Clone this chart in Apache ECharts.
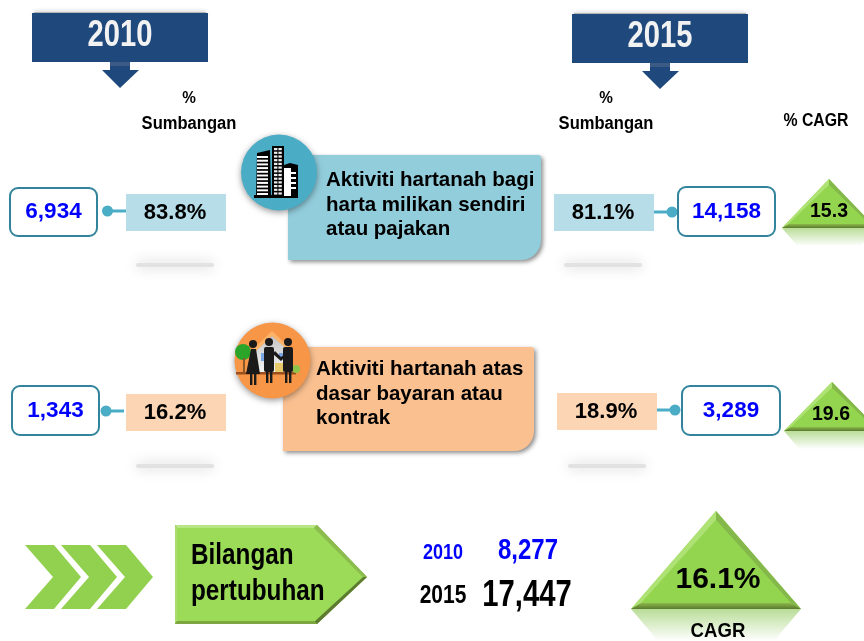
<!DOCTYPE html>
<html>
<head>
<meta charset="utf-8">
<title>Aktiviti hartanah</title>
<style>
    html, body { margin: 0; padding: 0; background: #fff; }
    #chart { width: 864px; height: 641px; }
</style>
<script src="https://cdn.jsdelivr.net/npm/echarts@6/dist/echarts.min.js"></script>
</head>
<body>
<div id="chart"></div>
<script>
/*---------------------------------------- data ---------------------------------------------*/
var years = [2010, 2015];
var rowTitles = [
    ['Aktiviti hartanah bagi', 'harta milikan sendiri', 'atau pajakan'],
    ['Aktiviti hartanah atas', 'dasar bayaran atau', 'kontrak']
];
var values2010 = [6934, 1343];
var values2015 = [14158, 3289];
var shares2010 = [83.8, 16.2];
var shares2015 = [81.1, 18.9];
var cagrValues = [15.3, 19.6];
var totals = [8277, 17447];
var totalCagr = 16.1;
var growthTitle = ['Bilangan', 'pertubuhan'];
var shareTitle = ['%', 'Sumbangan'];
var cagrTitle = '% CAGR';
var cagrLabel = 'CAGR';

/*---------------------------------------- helpers ---------------------------------------------*/
var SANS = '"Liberation Sans", Arial, sans-serif';
var items = [];
var fmt = echarts.format.addCommas;

// sx squeezes the text sideways, the reference uses a condensed face
function label(text, x, y, size, color, sx, align) {
    items.push({
        type: 'text', z: 20,
        x: x, y: y,
        scaleX: sx || 1,
        style: {
            text: text, fill: color || '#000',
            font: 'bold ' + size + 'px ' + SANS,
            align: align || 'center', verticalAlign: 'middle'
        }
    });
}

function poly(points, fill, z, extra) {
    var style = {fill: fill};
    for (var k in extra) {
        style[k] = extra[k];
    }
    items.push({type: 'polygon', z: z || 5, shape: {points: points}, style: style});
}

function rect(x, y, w, h, fill, r, z, extra) {
    var style = {fill: fill};
    for (var k in extra) {
        style[k] = extra[k];
    }
    items.push({type: 'rect', z: z || 5, shape: {x: x, y: y, width: w, height: h, r: r || 0}, style: style});
}

function circle(cx, cy, r, fill, z, extra) {
    var style = {fill: fill};
    for (var k in extra) {
        style[k] = extra[k];
    }
    items.push({type: 'circle', z: z || 5, shape: {cx: cx, cy: cy, r: r}, style: style});
}

function vGrad(c1, c2) {
    return new echarts.graphic.LinearGradient(0, 0, 0, 1, [
        {offset: 0, color: c1},
        {offset: 1, color: c2}
    ]);
}

// year banner with the down arrow below it
function banner(x, y, year) {
    rect(x + 2, y - 1, 172, 3, '#b5b5b5', 0, 3, {shadowBlur: 5, shadowColor: '#bbb'});
    rect(x, y, 176, 49, '#1F497D', 0, 5);
    poly([[x + 78, y + 49], [x + 98, y + 49], [x + 98, y + 57], [x + 107, y + 57], [x + 88, y + 75], [x + 70, y + 57], [x + 78, y + 57]], '#1F497D', 4);
    rect(x + 78, y + 49, 20, 4, '#3b5a84', 0, 5);
    label(String(year), x + 88, y + 23, 36, '#f2f2f2', 0.81);
}

function shareHead(x) {
    label(shareTitle[0], x, 98, 17, '#000', 0.9);
    label(shareTitle[1], x, 124, 18, '#000', 0.92);
}

function valueBox(x, y, w, h, value) {
    rect(x, y, w, h, '#fff', 8, 6, {stroke: '#31849B', lineWidth: 2});
    label(fmt(value), x + w / 2, y + h / 2, 22.5, '#0000ff');
}

function shareBox(x, y, fill, value) {
    rect(x, y, 100, 37, fill, 0, 5);
    label(value.toFixed(1) + '%', x + 49, y + 19, 22, '#000');
}

function connector(x1, x2, y, dotX) {
    items.push({type: 'line', z: 5, shape: {x1: x1, y1: y, x2: x2, y2: y}, style: {stroke: '#4BACC6', lineWidth: 3}});
    circle(dotX, y, 5.5, '#4BACC6', 6);
}

function smudge(x, y) {
    rect(x + 6, y, 78, 4, '#e2e2e2', 2, 2, {shadowBlur: 14, shadowColor: '#c0c0c0'});
}

// bevelled green triangle with fading reflection underneath
function triangle(ax, ay, baseY, half, bevel, reflect) {
    var lx = ax - half, rx = ax + half;
    var inset = reflect * 0.85;
    var b = bevel * 1.7;
    poly([[lx, baseY], [rx, baseY], [rx - inset, baseY + reflect], [lx + inset, baseY + reflect]], vGrad('#b9dd98', '#ffffff'), 3);
    poly([[ax, ay], [lx, baseY], [rx, baseY]], '#94D550', 5);
    poly([[ax, ay], [lx, baseY], [lx + b, baseY - bevel], [ax, ay + bevel * 1.5]], '#aee274', 6);
    poly([[ax, ay], [rx, baseY], [rx - b, baseY - bevel], [ax, ay + bevel * 1.5]], '#84b84a', 6);
    poly([[lx, baseY], [rx, baseY], [rx - b, baseY - bevel], [lx + b, baseY - bevel]], vGrad('#8cb84c', '#5a7a2c'), 7);
    poly([[ax, ay + bevel * 1.5], [lx + b, baseY - bevel], [rx - b, baseY - bevel]], '#94D550', 7);
}

function chevron(x) {
    poly([[x, 545], [x + 29, 545], [x + 56, 577], [x + 29, 609], [x, 609], [x + 28, 577]], '#92D050', 5);
}

// icons are only decoration, drawn from plain shapes
function buildingIcon() {
    var i;
    poly([[254, 195], [298, 195], [298, 198], [254, 198]], '#000', 10);
    poly([[257, 153], [270, 150], [271, 197], [256, 197]], '#000', 10);
    for (i = 0; i < 11; i++) {
        rect(257, 156 + i * 3.7, 11, 2, '#fff', 0, 11);
    }
    rect(272, 146, 12, 51, '#000', 0, 10);
    for (i = 0; i < 13; i++) {
        rect(274, 148 + i * 3.7, 3.4, 2.2, '#eee', 0, 11);
        rect(278.4, 148 + i * 3.7, 3.4, 2.2, '#eee', 0, 11);
    }
    poly([[284, 165], [290, 163], [298, 165], [298, 197], [284, 197]], '#000', 10);
    rect(284, 168, 7, 28, '#fff', 0, 11);
    for (i = 0; i < 4; i++) {
        rect(291, 172 + i * 5, 5, 2, '#fff', 0, 11);
    }
}

function person(x, y, skirt) {
    circle(x, y, 4, '#1a1a1a', 12);
    if (skirt) {
        poly([[x - 2, y + 5], [x + 3, y + 5], [x + 7, y + 30], [x - 7, y + 30]], '#1a1a1a', 12);
    } else {
        rect(x - 5, y + 5, 10, 25, '#1a1a1a', 2, 12);
    }
    rect(x - 3, y + 28, 2.4, 13, '#1a1a1a', 0, 12);
    rect(x + 1, y + 28, 2.4, 13, '#1a1a1a', 0, 12);
}

function peopleIcon() {
    poly([[272, 331], [250, 352], [255, 352], [272, 336], [289, 352], [294, 352]], '#fdb36a', 9);
    poly([[272, 336], [256, 351], [256, 372], [289, 372], [289, 351]], vGrad('#c4c4c4', '#f4f4f4'), 9);
    rect(261, 353, 4, 8, '#7aa6e6', 0, 10);
    rect(279, 353, 4, 6, '#7aa6e6', 0, 10);
    rect(275, 363, 9, 9, '#e8c96a', 0, 10);
    rect(236, 372, 60, 2.5, '#9c4f1e', 0, 10);
    circle(243, 352, 8, '#2aa52a', 10);
    rect(243, 358, 2, 14, '#8a5a2b', 0, 10);
    circle(296, 369, 4, '#8fc24a', 10);
    person(253, 344, true);
    person(269, 342, false);
    person(288, 342, false);
    poly([[273, 354], [281, 361], [284, 358], [284, 355], [281, 357], [275, 351]], '#1a1a1a', 12);
}

/*---------------------------------------- layout ---------------------------------------------*/
banner(32, 13, years[0]);
banner(572, 14, years[1]);
shareHead(189);
shareHead(606);
label(cagrTitle, 816, 121, 18, '#000', 0.88);

// first row
valueBox(10, 188, 87, 48, values2010[0]);
connector(107, 126, 211, 107.5);
shareBox(126, 194, '#B7DEE8', shares2010[0]);
smudge(130, 263);
rect(288, 155, 253, 105, '#92CDDC', [0, 3, 20, 0], 4, {shadowBlur: 4, shadowOffsetX: 2, shadowOffsetY: 2, shadowColor: 'rgba(0,0,0,0.45)'});
circle(279, 172.5, 38, '#4BACC6', 8, {shadowBlur: 6, shadowOffsetY: 2, shadowColor: 'rgba(0,0,0,0.4)'});
buildingIcon();
label(rowTitles[0][0], 326, 180, 20.5, '#000', 1, 'left');
label(rowTitles[0][1], 326, 205, 20.5, '#000', 1, 'left');
label(rowTitles[0][2], 326, 229, 20.5, '#000', 1, 'left');
shareBox(554, 194, '#B7DEE8', shares2015[0]);
connector(654, 672, 212, 672);
valueBox(678, 187, 97, 49, values2015[0]);
triangle(829, 179, 228, 47, 4, 18);
label(cagrValues[0].toFixed(1), 829, 212, 19.5, '#000');
smudge(558, 263);

// second row
valueBox(12, 386, 87, 49, values2010[1]);
connector(106, 124, 411, 106);
shareBox(126, 394, '#FCD5B5', shares2010[1]);
smudge(130, 464);
rect(283, 347, 251, 104, '#FAC090', [0, 3, 20, 0], 4, {shadowBlur: 4, shadowOffsetX: 2, shadowOffsetY: 2, shadowColor: 'rgba(0,0,0,0.45)'});
circle(272.5, 360.5, 38, '#F79646', 8, {shadowBlur: 6, shadowOffsetY: 2, shadowColor: 'rgba(0,0,0,0.4)'});
peopleIcon();
label(rowTitles[1][0], 316, 369, 20.5, '#000', 1, 'left');
label(rowTitles[1][1], 316, 394, 20.5, '#000', 1, 'left');
label(rowTitles[1][2], 316, 418, 20.5, '#000', 1, 'left');
shareBox(557, 393, '#FCD5B5', shares2015[1]);
connector(657, 675, 410, 675);
valueBox(682, 386, 98, 49, values2015[1]);
triangle(832, 382, 431, 48, 4, 18);
label(cagrValues[1].toFixed(1), 831, 415, 19.5, '#000');
smudge(562, 464);

// bottom strip
chevron(25);
chevron(61);
chevron(97);
poly([[175, 525], [317, 525], [367, 577], [317, 624], [175, 624]], '#7aa83e', 5);
poly([[175, 525], [317, 525], [314, 528], [177, 528]], '#b7e684', 6);
poly([[175, 525], [177, 528], [177, 621], [175, 624]], '#a9de6e', 6);
poly([[175, 624], [177, 621], [315, 621], [317, 624]], '#7da540', 6);
poly([[317, 525], [367, 577], [363, 577], [314, 528]], '#8cbc4e', 6);
poly([[367, 577], [317, 624], [315, 621], [363, 577]], '#5d7c30', 6);
poly([[177, 528], [314, 528], [363, 577], [315, 621], [177, 621]], '#9BDB58', 7);
label(growthTitle[0], 191, 556, 30, '#000', 0.81, 'left');
label(growthTitle[1], 191, 592, 30, '#000', 0.81, 'left');
label(String(years[0]), 443, 553, 22, '#0000ff', 0.82);
label(fmt(totals[0]), 528, 551, 30, '#0000ff', 0.8);
label(String(years[1]), 443, 596, 25, '#000', 0.84);
label(fmt(totals[1]), 527, 596, 37, '#000', 0.79);
triangle(716, 511, 609, 85, 6, 32);
label(totalCagr.toFixed(1) + '%', 718, 580, 30, '#000');
label(cagrLabel, 718, 631, 20, '#000', 0.93);

var chart = echarts.init(document.getElementById('chart'), null, {renderer: 'canvas'});
chart.setOption({
    backgroundColor: '#fff',
    animation: false,
    graphic: {elements: items}
});
</script>
</body>
</html>
